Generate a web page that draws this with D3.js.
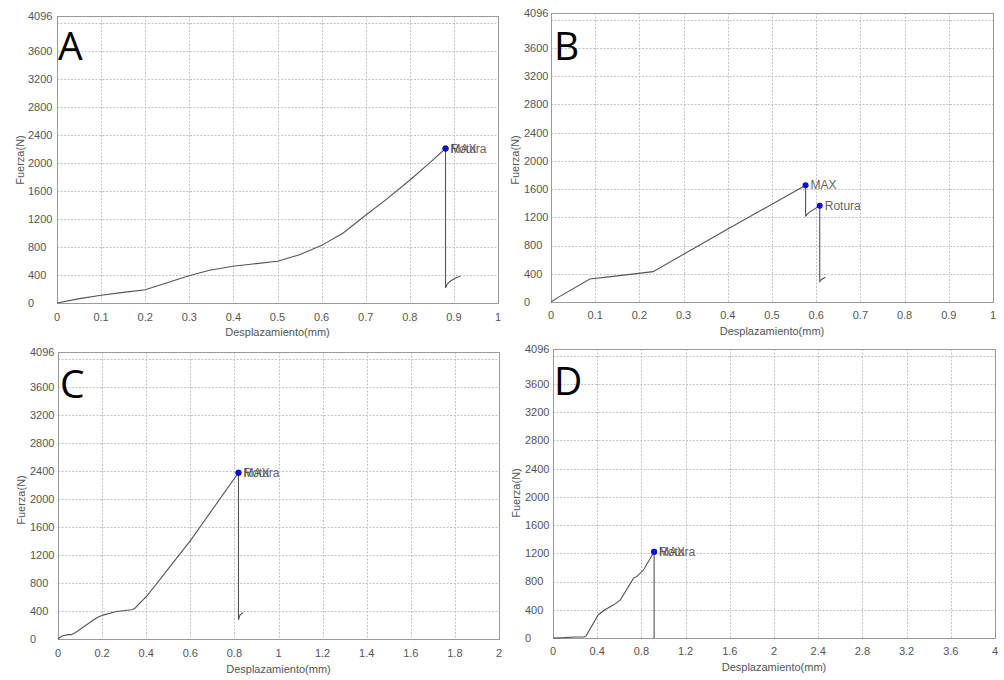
<!DOCTYPE html>
<html><head><meta charset="utf-8">
<script src="https://cdn.jsdelivr.net/npm/d3@7"></script>
<style>body{margin:0;background:#fff}svg{display:block}</style>
</head><body>
<svg id="chart" width="1004" height="680"></svg>
<script>
// ---------- DATA ----------
const panelLetters = ["A", "B", "C", "D"];
const yTickValues = [0, 400, 800, 1200, 1600, 2000, 2400, 2800, 3200, 3600, 4096];
const yGridValues = [400, 800, 1200, 1600, 2000, 2400, 2800, 3200, 3600, 4000];
const xTicksA = [0, 0.1, 0.2, 0.3, 0.4, 0.5, 0.6, 0.7, 0.8, 0.9, 1];
const xTicksB = [0, 0.1, 0.2, 0.3, 0.4, 0.5, 0.6, 0.7, 0.8, 0.9, 1];
const xTicksC = [0, 0.2, 0.4, 0.6, 0.8, 1, 1.2, 1.4, 1.6, 1.8, 2];
const xTicksD = [0, 0.4, 0.8, 1.2, 1.6, 2, 2.4, 2.8, 3.2, 3.6, 4];

const dispA  = [0, 0.051, 0.1, 0.15, 0.2, 0.248, 0.299, 0.346, 0.399, 0.444, 0.5, 0.55, 0.599, 0.649, 0.699, 0.749, 0.799, 0.845, 0.881, 0.881, 0.885, 0.895, 0.905, 0.915];
const forceA = [0, 62, 110, 152, 190, 286, 390, 467, 524, 557, 595, 690, 819, 1000, 1248, 1490, 1748, 2000, 2205, 214, 275, 325, 360, 381];

const dispB  = [0, 0.02, 0.088, 0.15, 0.231, 0.4, 0.576, 0.576, 0.584, 0.608, 0.608, 0.612, 0.621];
const forceB = [0, 80, 325, 370, 430, 1035, 1654, 1220, 1270, 1365, 291, 320, 350];

const dispC  = [0, 0.015, 0.045, 0.06, 0.076, 0.174, 0.204, 0.265, 0.333, 0.348, 0.401, 0.461, 0.602, 0.8185, 0.8185, 0.825, 0.84];
const forceC = [0, 38, 62, 62, 85, 299, 341, 393, 417, 436, 607, 844, 1412, 2372, 275, 340, 379];

const dispD  = [0, 0.1, 0.2, 0.28, 0.3, 0.41, 0.47, 0.55, 0.61, 0.73, 0.76, 0.82, 0.915, 0.915];
const forceD = [0, 5, 15, 15, 30, 330, 400, 470, 540, 850, 873, 967, 1222, 0];

const markerNames = ["MAX", "Rotura"];
const markerDispA = [0.881, 0.881],  markerForceA = [2205, 2205];
const markerDispB = [0.576, 0.608],  markerForceB = [1654, 1365];
const markerDispC = [0.8185, 0.8185], markerForceC = [2372, 2372];
const markerDispD = [0.915, 0.915],  markerForceD = [1222, 1222];

const xTitle = "Desplazamiento(mm)";
const yTitle = "Fuerza(N)";

// ---------- LAYOUT ----------
const panels = [
  {letter: panelLetters[0], xMax: 1, xTicks: xTicksA, disp: dispA, force: forceA, mDisp: markerDispA, mForce: markerForceA,
   left: 57, right: 498, top: 16, bottom: 303, yLabX: 28, yTitleX: 20, yTitleY: 160, xLabY: 321, xTitleY: 336, lx: 58, ly: 60},
  {letter: panelLetters[1], xMax: 1, xTicks: xTicksB, disp: dispB, force: forceB, mDisp: markerDispB, mForce: markerForceB,
   left: 551, right: 993, top: 13, bottom: 302, yLabX: 524, yTitleX: 515, yTitleY: 160, xLabY: 319, xTitleY: 335, lx: 554, ly: 60},
  {letter: panelLetters[2], xMax: 2, xTicks: xTicksC, disp: dispC, force: forceC, mDisp: markerDispC, mForce: markerForceC,
   left: 58, right: 499, top: 352, bottom: 639, yLabX: 30, yTitleX: 21, yTitleY: 500, xLabY: 657, xTitleY: 673, lx: 60, ly: 398},
  {letter: panelLetters[3], xMax: 4, xTicks: xTicksD, disp: dispD, force: forceD, mDisp: markerDispD, mForce: markerForceD,
   left: 553, right: 995, top: 349, bottom: 638, yLabX: 525, yTitleX: 516, yTitleY: 493, xLabY: 655, xTitleY: 671, lx: 554, ly: 395}
];

const svg = d3.select("#chart");
const fmt = d => String(+d.toFixed(2));
const FONT = "Liberation Sans, Arial, sans-serif";

panels.forEach(p => {
  const x = d3.scaleLinear().domain([0, p.xMax]).range([p.left, p.right]);
  const y = d3.scaleLinear().domain([0, 4096]).range([p.bottom, p.top]);
  const g = svg.append("g");

  // grid
  g.selectAll(".vg").data(p.xTicks.slice(1, -1)).join("line")
    .attr("x1", d => Math.round(x(d)) + 0.5).attr("x2", d => Math.round(x(d)) + 0.5)
    .attr("y1", p.top).attr("y2", p.bottom)
    .attr("stroke", "#c4c4c4").attr("stroke-dasharray", "2,1.5").attr("stroke-width", 1);
  g.selectAll(".hg").data(yGridValues).join("line")
    .attr("y1", d => Math.round(y(d)) + 0.5).attr("y2", d => Math.round(y(d)) + 0.5)
    .attr("x1", p.left).attr("x2", p.right)
    .attr("stroke", "#c4c4c4").attr("stroke-dasharray", "2,1.5").attr("stroke-width", 1);

  // border
  g.append("rect").attr("x", p.left + 0.5).attr("y", p.top + 0.5)
    .attr("width", p.right - p.left).attr("height", p.bottom - p.top)
    .attr("fill", "none").attr("stroke", "#9a9a9a");

  // y tick labels (left aligned, as in the reference)
  g.selectAll(".yt").data(yTickValues).join("text")
    .attr("x", p.yLabX).attr("y", d => y(d)).attr("dy", "0.35em")
    .attr("text-anchor", "start").attr("font-family", FONT)
    .attr("font-size", 11).attr("fill", "#555").text(d => d);

  // x tick labels
  g.selectAll(".xt").data(p.xTicks).join("text")
    .attr("x", d => x(d)).attr("y", p.xLabY)
    .attr("text-anchor", "middle").attr("font-family", FONT)
    .attr("font-size", 11).attr("fill", "#555").text(fmt);

  // axis titles
  g.append("text").attr("x", (p.left + p.right) / 2).attr("y", p.xTitleY)
    .attr("text-anchor", "middle").attr("font-family", FONT)
    .attr("font-size", 11).attr("fill", "#555").text(xTitle);
  g.append("text").attr("transform", `translate(${p.yTitleX},${p.yTitleY}) rotate(-90)`)
    .attr("dy", "0.35em").attr("text-anchor", "middle").attr("font-family", FONT)
    .attr("font-size", 11).attr("fill", "#555").text(yTitle);

  // curve
  const pts = p.disp.map((d, i) => [d, p.force[i]]);
  g.append("path").datum(pts)
    .attr("d", d3.line().x(d => x(d[0])).y(d => y(d[1])))
    .attr("fill", "none").attr("stroke", "#555").attr("stroke-width", 1.1);

  // markers
  const marks = markerNames.map((n, i) => ({name: n, d: p.mDisp[i], f: p.mForce[i]}));
  g.selectAll(".mk").data(marks).join("circle")
    .attr("cx", d => x(d.d)).attr("cy", d => y(d.f)).attr("r", 3).attr("fill", "#1010d0");
  g.selectAll(".ml").data(marks).join("text")
    .attr("x", d => x(d.d) + 5).attr("y", d => y(d.f)).attr("dy", "0.35em")
    .attr("font-family", FONT).attr("font-size", 12)
    .attr("fill", "#444").attr("fill-opacity", 0.85).text(d => d.name);

  // panel letter
  g.append("text").attr("x", p.lx).attr("y", p.ly)
    .attr("font-family", "Open Sans, sans-serif").attr("font-size", 39).attr("fill", "#000")
    .text(p.letter);
});
</script>
</body></html>
